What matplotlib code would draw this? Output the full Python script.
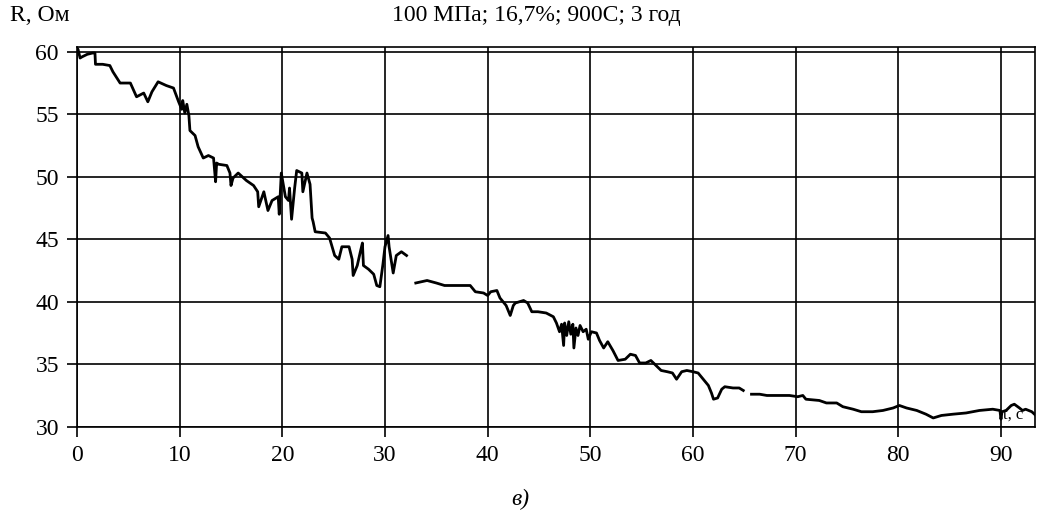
import matplotlib
matplotlib.use("Agg")
import matplotlib.pyplot as plt

# ── Data ─────────────────────────────────────────────────────────────────────
# three separate recording pieces, time t in s, resistance R in Ohm
seg1_t = [0.0, 0.1, 0.3, 0.5, 1.0, 1.5, 1.75, 1.8, 2.5, 3.2, 3.5, 4.2, 5.2, 5.8, 6.5,
          6.9, 7.3, 7.9, 8.7, 9.4, 9.9, 10.2, 10.3, 10.5, 10.7, 10.9, 11.0, 11.5, 11.8, 12.3,
          12.8, 13.3, 13.5, 13.6, 13.8, 14.6, 14.9, 15.0, 15.2, 15.7, 16.5, 17.2, 17.6, 17.7, 18.2,
          18.6, 19.0, 19.6, 19.7, 19.9, 20.3, 20.6, 20.7, 20.9, 21.2, 21.4, 21.9, 22.0, 22.4, 22.7,
          22.9, 23.0, 23.2, 24.2, 24.6, 25.1, 25.5, 25.8, 26.5, 26.8, 26.9, 27.3, 27.6, 27.8, 27.9,
          28.4, 28.9, 29.2, 29.5, 29.8, 30.0, 30.3, 30.4, 30.8, 31.1, 31.6, 32.1]
seg1_r = [60.3, 60.2, 59.5, 59.6, 59.8, 59.9, 59.9, 59.0, 59.0, 58.9, 58.4, 57.5, 57.5, 56.4, 56.7,
          56.0, 56.8, 57.6, 57.3, 57.1, 56.0, 55.4, 56.1, 55.1, 55.8, 54.9, 53.7, 53.3, 52.4, 51.5,
          51.7, 51.5, 49.6, 51.1, 51.0, 50.9, 50.3, 49.3, 49.9, 50.3, 49.7, 49.3, 48.8, 47.6, 48.8,
          47.3, 48.1, 48.4, 47.0, 50.3, 48.4, 48.1, 49.1, 46.6, 49.1, 50.5, 50.3, 48.8, 50.3, 49.4,
          46.7, 46.4, 45.6, 45.5, 45.1, 43.7, 43.4, 44.4, 44.4, 43.4, 42.1, 42.9, 44.0, 44.7, 42.9,
          42.6, 42.2, 41.3, 41.2, 43.0, 44.4, 45.3, 44.4, 42.3, 43.7, 44.0, 43.7]

seg2_t = [33.0, 34.1, 35.0, 35.8, 36.9, 38.3, 38.8, 39.6, 40.0, 40.3, 40.9, 41.2, 41.8, 42.2, 42.5,
          42.7, 43.5, 43.9, 44.3, 44.9, 45.7, 46.4, 46.7, 47.0, 47.2, 47.4, 47.5, 47.7, 47.9, 48.1,
          48.3, 48.4, 48.6, 48.8, 49.0, 49.3, 49.6, 49.8, 50.1, 50.6, 50.9, 51.3, 51.7, 52.2, 52.7,
          53.4, 53.9, 54.4, 54.8, 55.4, 55.9, 56.4, 56.9, 57.5, 58.0, 58.4, 58.9, 59.4, 60.0, 60.5,
          61.0, 61.5, 61.8, 62.0, 62.4, 62.8, 63.1, 63.9, 64.5, 64.9]
seg2_r = [41.5, 41.7, 41.5, 41.3, 41.3, 41.3, 40.8, 40.7, 40.5, 40.8, 40.9, 40.3, 39.7, 38.9, 39.7,
          39.9, 40.1, 39.9, 39.2, 39.2, 39.1, 38.8, 38.3, 37.6, 38.2, 36.5, 38.3, 37.3, 38.4, 37.4,
          38.2, 36.3, 37.9, 37.3, 38.1, 37.6, 37.8, 37.0, 37.6, 37.5, 36.9, 36.3, 36.8, 36.1, 35.3,
          35.4, 35.8, 35.7, 35.1, 35.1, 35.3, 34.9, 34.5, 34.4, 34.3, 33.8, 34.4, 34.5, 34.4, 34.3,
          33.8, 33.3, 32.7, 32.2, 32.3, 33.0, 33.2, 33.1, 33.1, 32.9]

seg3_t = [65.7, 66.5, 67.2, 68.5, 69.4, 70.2, 70.7, 71.0, 72.3, 73.0, 74.0, 74.6, 75.6, 76.4, 77.5,
          78.5, 79.5, 80.1, 80.8, 81.8, 82.7, 83.4, 84.2, 85.3, 86.6, 87.9, 89.2, 89.9, 90.0, 90.1,
          90.5, 91.0, 91.3, 91.8, 92.1, 92.4, 93.0, 93.4]
seg3_r = [32.6, 32.6, 32.5, 32.5, 32.5, 32.4, 32.5, 32.2, 32.1, 31.9, 31.9, 31.6, 31.4, 31.2, 31.2,
          31.3, 31.5, 31.7, 31.5, 31.3, 31.0, 30.7, 30.9, 31.0, 31.1, 31.3, 31.4, 31.3, 30.6, 31.2,
          31.3, 31.7, 31.8, 31.5, 31.3, 31.4, 31.2, 30.9]

x_ticks = [0, 10, 20, 30, 40, 50, 60, 70, 80, 90]
y_ticks = [30, 35, 40, 45, 50, 55, 60]

TITLE = "100 МПа; 16,7%; 900С; 3 год"
YLABEL = "R, Ом"
XLABEL = "t, c"
CAPTION = "в)"

# ── Style ────────────────────────────────────────────────────────────────────
SERIF = ["Liberation Serif", "DejaVu Serif"]
FS = 17
plt.rcParams["font.family"] = SERIF

fig = plt.figure(figsize=(10.49, 5.20), dpi=100, facecolor="white")
ax = fig.add_axes([0.0734, 0.1794, 0.9136, 0.7306])

for t, r in ((seg1_t, seg1_r), (seg2_t, seg2_r), (seg3_t, seg3_r)):
    ax.plot(t, r, color="black", linewidth=2.0, zorder=3)

ax.set_xlim(0, 93.35)
ax.set_ylim(30, 60.4)
ax.set_xticks(x_ticks)
ax.set_yticks(y_ticks)
ax.grid(True, color="black", linewidth=1.2)
ax.set_axisbelow(True)
for sp in ax.spines.values():
    sp.set_color("black")
    sp.set_linewidth(1.2)
ax.tick_params(direction="out", length=7, width=1.2, labelsize=FS, pad=6)

ax.text(90.2, 30.35, XLABEL, fontsize=12, ha="left", va="bottom", zorder=2)

fig.text(0.010, 0.970, YLABEL, fontsize=FS, ha="left", va="center")
fig.text(0.511, 0.970, TITLE, fontsize=FS, ha="center", va="center")
fig.text(0.496, 0.040, CAPTION, fontsize=FS, style="italic", ha="center", va="center")

fig.savefig("out.png", dpi=100, facecolor="white")
